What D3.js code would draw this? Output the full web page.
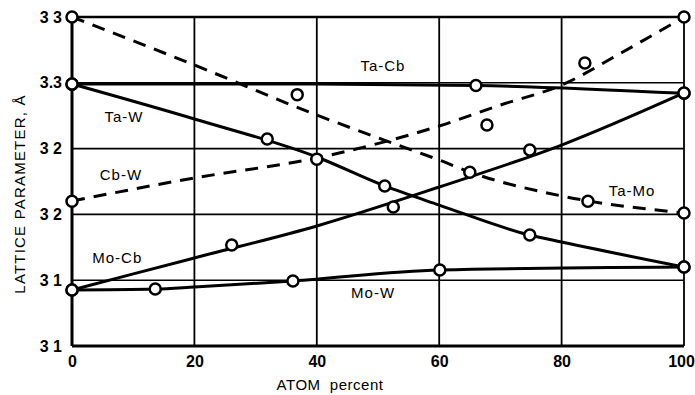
<!DOCTYPE html>
<html>
<head>
<meta charset="utf-8">
<script src="https://cdn.jsdelivr.net/npm/d3@7/dist/d3.min.js"></script>
<style>
  html, body { margin: 0; padding: 0; background: #fff; }
  svg { display: block; }
  text { font-family: "Liberation Sans", Arial, Helvetica, sans-serif; fill: #000; }
</style>
</head>
<body>
<svg id="chart" width="695" height="395"></svg>
<script>
// Axis ticks (lattice parameter in Å, composition in atom percent)
const yTickValues = [3.10, 3.15, 3.20, 3.25, 3.30, 3.35];
const yTickLabels = ["3 1", "3 1", "3 2", "3 2", "3.3", "3 3"];
const xTickValues = [0, 20, 40, 60, 80, 100];
const xTickLabels = ["0", "20", "40", "60", "80", "100"];

// Binary systems, in drawing order
const systems = ["Ta-Cb", "Ta-Mo", "Cb-W", "Ta-W", "Mo-Cb", "Mo-W"];

// Measured lattice parameters (circles)
const taCbPct = [0, 66, 100];
const taCbVal = [3.299, 3.298, 3.292];
const taMoPct = [0, 36.8, 65, 84.3, 100];
const taMoVal = [3.350, 3.291, 3.232, 3.210, 3.201];
const cbWPct  = [0, 40, 67.8, 83.8, 100];
const cbWVal  = [3.210, 3.242, 3.268, 3.315, 3.350];
const taWPct  = [0, 31.9, 51.1, 74.8, 100];
const taWVal  = [3.299, 3.2573, 3.2216, 3.1843, 3.160];
const moCbPct = [0, 26.1, 52.5, 74.8, 100];
const moCbVal = [3.1426, 3.1767, 3.2056, 3.2489, 3.2923];
const moWPct  = [0, 13.6, 36.1, 60.1, 100];
const moWVal  = [3.1426, 3.1433, 3.1494, 3.1578, 3.1600];

// Smoothed curves through the measurements
const taCbFitPct = [0, 40, 66, 100];
const taCbFitVal = [3.299, 3.299, 3.298, 3.292];
const taMoFitPct = [0, 20, 40, 51, 60, 65, 80, 100];
const taMoFitVal = [3.350, 3.3135, 3.2755, 3.2565, 3.2413, 3.2322, 3.2140, 3.2011];
const cbWFitPct  = [0, 20, 40, 60, 70, 80, 90, 100];
const cbWFitVal  = [3.2102, 3.2277, 3.2429, 3.2672, 3.2831, 3.2983, 3.3234, 3.350];
const taWFitPct  = [0, 20, 40, 51.1, 60, 74.8, 80, 100];
const taWFitVal  = [3.2991, 3.2725, 3.2436, 3.2216, 3.2071, 3.1843, 3.1790, 3.1600];
const moCbFitPct = [0, 20, 40, 60, 80, 100];
const moCbFitVal = [3.1426, 3.1669, 3.1912, 3.2208, 3.2527, 3.2923];
const moWFitPct  = [0, 13.6, 20, 36.1, 60.1, 100];
const moWFitVal  = [3.1426, 3.1433, 3.1448, 3.1494, 3.1578, 3.1600];

// Curve name labels, anchored in data units
const labelText = ["Ta-Cb", "Ta-W", "Cb-W", "Ta-Mo", "Mo-Cb", "Mo-W"];
const labelPct  = [50.8, 8.5, 8.0, 91.5, 7.4, 49.2];
const labelVal  = [3.3128, 3.274, 3.230, 3.2178, 3.1669, 3.1403];

const measured = {
  "Ta-Cb": [taCbPct, taCbVal], "Ta-Mo": [taMoPct, taMoVal], "Cb-W": [cbWPct, cbWVal],
  "Ta-W": [taWPct, taWVal], "Mo-Cb": [moCbPct, moCbVal], "Mo-W": [moWPct, moWVal]
};
const fitted = {
  "Ta-Cb": [taCbFitPct, taCbFitVal], "Ta-Mo": [taMoFitPct, taMoFitVal], "Cb-W": [cbWFitPct, cbWFitVal],
  "Ta-W": [taWFitPct, taWFitVal], "Mo-Cb": [moCbFitPct, moCbFitVal], "Mo-W": [moWFitPct, moWFitVal]
};
const dashedSystems = new Set(["Ta-Mo", "Cb-W"]);

const zip = (a, b) => a.map((v, i) => [v, b[i]]);

const margin = { left: 72, right: 11, top: 17, bottom: 49 };
const width = 695, height = 395;

const x = d3.scaleLinear().domain([0, 100]).range([margin.left, width - margin.right]);
const y = d3.scaleLinear().domain([3.10, 3.35]).range([height - margin.bottom, margin.top]);

const svg = d3.select("#chart");

// Grid
const grid = svg.append("g");
grid.selectAll("line.h").data(yTickValues).join("line")
  .attr("x1", x(0)).attr("x2", x(100))
  .attr("y1", d => y(d)).attr("y2", d => y(d))
  .attr("stroke", "#000")
  .attr("stroke-width", (d, i) => i === 0 ? 3 : (i === yTickValues.length - 1 ? 2.5 : 1.6));
grid.selectAll("line.v").data(xTickValues).join("line")
  .attr("x1", d => x(d)).attr("x2", d => x(d))
  .attr("y1", y(3.35)).attr("y2", y(3.10))
  .attr("stroke", "#000")
  .attr("stroke-width", (d, i) => i === 0 ? 3 : 1.8);

// Axes (labels only; the frame is the grid)
const yAxis = d3.axisLeft(y).tickValues(yTickValues)
  .tickFormat((d, i) => yTickLabels[i]).tickSize(0).tickPadding(10);
svg.append("g").attr("transform", `translate(${x(0)},0)`).call(yAxis)
  .call(g => g.select(".domain").remove())
  .selectAll("text").attr("font-size", 16).attr("font-weight", "bold")
  .attr("font-family", "'Liberation Sans', Arial, sans-serif");

const xAxis = d3.axisBottom(x).tickValues(xTickValues)
  .tickFormat((d, i) => xTickLabels[i]).tickSize(0).tickPadding(10);
svg.append("g").attr("transform", `translate(0,${y(3.10)})`).call(xAxis)
  .call(g => g.select(".domain").remove())
  .selectAll("text").attr("font-size", 16).attr("font-weight", "bold")
  .attr("font-family", "'Liberation Sans', Arial, sans-serif")
  .attr("dx", (d, i) => i === xTickValues.length - 1 ? -3 : 0);

// Axis titles
svg.append("text")
  .attr("x", 330).attr("y", 390)
  .attr("text-anchor", "middle").attr("font-size", 15)
  .attr("letter-spacing", 0.5)
  .style("white-space", "pre")
  .text("ATOM  percent");

svg.append("text")
  .attr("transform", `translate(25,${194}) rotate(-90)`)
  .attr("text-anchor", "middle").attr("font-size", 15)
  .attr("letter-spacing", 1.2)
  .text("LATTICE PARAMETER, Å");

// Curves
const line = d3.line().x(d => x(d[0])).y(d => y(d[1])).curve(d3.curveMonotoneX);
svg.append("g").selectAll("path").data(systems).join("path")
  .attr("d", s => line(zip(...fitted[s])))
  .attr("fill", "none").attr("stroke", "#000")
  .attr("stroke-width", 3)
  .attr("stroke-dasharray", s => dashedSystems.has(s) ? "13,9" : null);

// Measured points
const pts = systems.flatMap(s => zip(...measured[s]));
svg.append("g").selectAll("circle").data(pts).join("circle")
  .attr("cx", d => x(d[0])).attr("cy", d => y(d[1]))
  .attr("r", 5.5).attr("fill", "#fff").attr("stroke", "#000").attr("stroke-width", 2.5);

// Curve labels
svg.append("g").selectAll("text").data(labelText).join("text")
  .attr("x", (d, i) => x(labelPct[i])).attr("y", (d, i) => y(labelVal[i]))
  .attr("dy", "0.35em").attr("text-anchor", "middle")
  .attr("font-size", 15).attr("letter-spacing", 1)
  .text(d => d);
</script>
</body>
</html>
